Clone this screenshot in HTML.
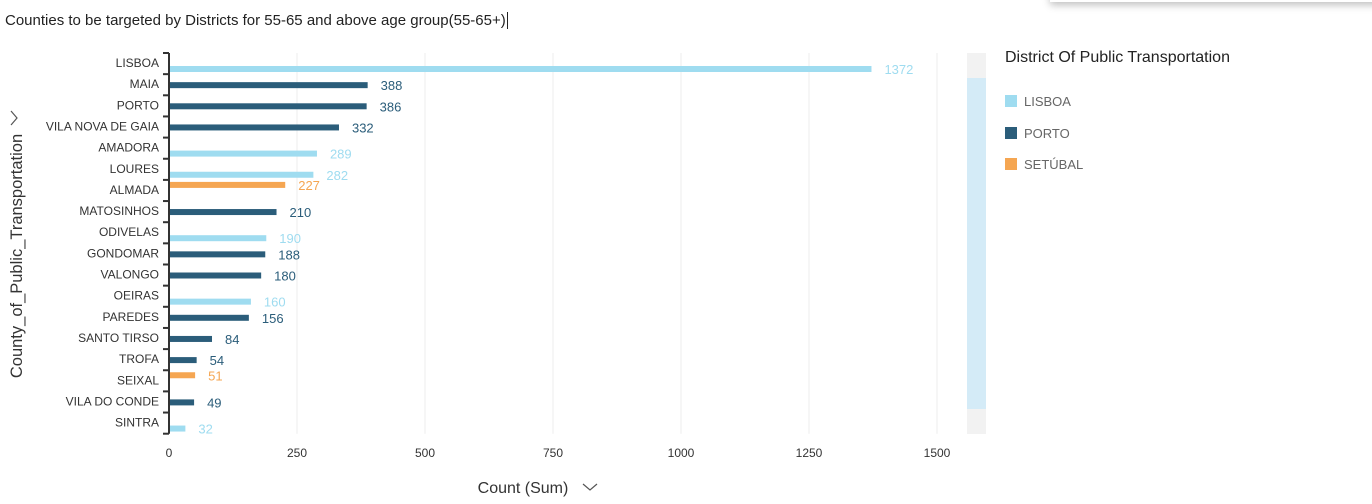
<!DOCTYPE html>
<html><head><meta charset="utf-8"><style>
body{margin:0;width:1372px;height:504px;background:#fff;overflow:hidden;font-family:"Liberation Sans","DejaVu Sans",sans-serif;position:relative}
.t{position:absolute}
</style></head><body>
<div class="t" style="left:1050px;top:-10px;width:340px;height:12px;background:#fff;box-shadow:0 3px 8px rgba(0,0,0,0.25)"></div>
<div class="t" style="left:5px;top:12px;font-size:15px;color:#222">Counties to be targeted by Districts for 55-65 and above age group(55-65+)<span style="border-left:1px solid #222;margin-left:1px"></span></div>
<svg class="t" style="left:0;top:0" width="1372" height="504" id="chart"></svg>
<div class="t" style="left:1005px;top:49px;font-size:16px;color:#222">District Of Public Transportation</div>
<div class="t" style="left:1005px;top:94px;font-size:13px;color:#666"><span style="display:inline-block;width:12px;height:12px;background:#9fdcf0;vertical-align:-1px;margin-right:7px"></span>LISBOA</div>
<div class="t" style="left:1005px;top:126px;font-size:13px;color:#666"><span style="display:inline-block;width:12px;height:12px;background:#2b5d7a;vertical-align:-1px;margin-right:7px"></span>PORTO</div>
<div class="t" style="left:1005px;top:157px;font-size:13px;color:#666"><span style="display:inline-block;width:12px;height:12px;background:#f5a652;vertical-align:-1px;margin-right:7px"></span>SETÚBAL</div>
<div class="t" style="left:967px;top:53px;width:19px;height:381px;background:#d4ebf7">
<div style="height:25px;background:#f2f2f2"></div>
<div style="position:absolute;bottom:0;width:19px;height:25px;background:#f2f2f2"></div></div>
<script>
const categories=["LISBOA","MAIA","PORTO","VILA NOVA DE GAIA","AMADORA","LOURES","ALMADA","MATOSINHOS","ODIVELAS","GONDOMAR","VALONGO","OEIRAS","PAREDES","SANTO TIRSO","TROFA","SEIXAL","VILA DO CONDE","SINTRA"];
const districts=["LISBOA","PORTO","PORTO","PORTO","LISBOA","LISBOA","SETUBAL","PORTO","LISBOA","PORTO","PORTO","LISBOA","PORTO","PORTO","PORTO","SETUBAL","PORTO","LISBOA"];
const values=[1372,388,386,332,289,282,227,210,190,188,180,160,156,84,54,51,49,32];
const ticks=[0,250,500,750,1000,1250,1500];
</script>
<script>
const svg=document.getElementById('chart');const NS='http://www.w3.org/2000/svg';
const x0=169,x1=937,xmax=1500,top0=53,band=21.15;
const X=v=>x0+(v/xmax)*(x1-x0);
const Y=i=>top0+i*band;
const col={LISBOA:'#9fdcf0',PORTO:'#2b5d7a',SETUBAL:'#f5a652'};
const off={SETUBAL:2,PORTO:8,LISBOA:13};
function mk(t,a){const e=document.createElementNS(NS,t);for(const k in a)e.setAttribute(k,a[k]);svg.appendChild(e);return e;}
ticks.forEach(t=>{
 if(t>0){const g=mk('line',{x1:X(t),x2:X(t),y1:top0,y2:Y(categories.length),stroke:'#ececec'});
 
 }
 const l=mk('text',{x:X(t),y:457,'text-anchor':'middle','font-size':12,fill:'#333'});l.textContent=t;
 
 
});
const ax=mk('line',{x1:x0,x2:x0,y1:top0,y2:Y(categories.length),stroke:'#333','stroke-width':2});


for(let i=0;i<=categories.length;i++){const tk=mk('line',{x1:x0-6,x2:x0,y1:Y(i),y2:Y(i),stroke:'#333','stroke-width':2});
 
 }
categories.forEach((c,i)=>{
 const l=mk('text',{x:159,y:Y(i)+14,'text-anchor':'end','font-size':12,fill:'#333'});l.textContent=c;
 
 
 const d=districts[i];const by=Y(i)+off[d];
 const r=mk('rect',{x:x0+1,y:by,width:Math.max(0,X(values[i])-x0-1),height:6,fill:col[d]});
 
 
 const v=mk('text',{x:X(values[i])+13,y:by+8,'font-size':13,fill:col[d]});v.textContent=values[i];
 
 
});
const xt=mk('text',{x:523,y:493,'text-anchor':'middle','font-size':16,fill:'#333'});xt.textContent='Count (Sum)';


const xc=mk('path',{d:'M583 484 l7 6 l7 -6',fill:'none',stroke:'#555','stroke-width':1.2});


const yt=mk('text',{x:0,y:0,'text-anchor':'middle','font-size':16.5,fill:'#333',transform:'translate(22,256) rotate(-90)'});yt.textContent='County_of_Public_Transportation';


const yc=mk('path',{d:'M11 111 l6 7 l-6 7',fill:'none',stroke:'#555','stroke-width':1.2});


</script>
</body></html>
